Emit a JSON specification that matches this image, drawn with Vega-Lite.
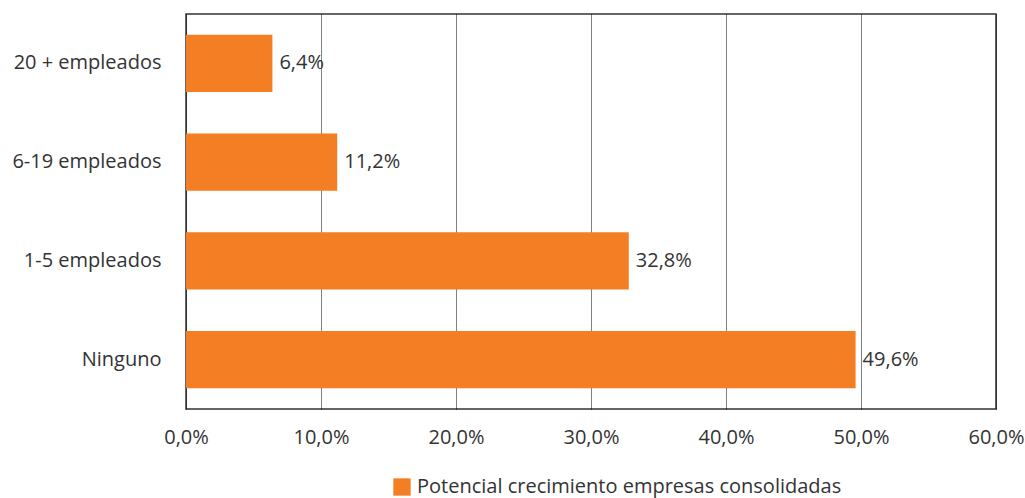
{
  "$schema": "https://vega.github.io/schema/vega-lite/v6.json",
  "width": 810,
  "height": 395,
  "autosize": {"type": "none"},
  "padding": {"left": 186, "top": 14, "right": 29, "bottom": 89},
  "background": "white",
  "data": {
    "values": [
      {"categoria": "20 + empleados", "valor": 0.064, "serie": "Potencial crecimiento empresas consolidadas"},
      {"categoria": "6-19 empleados", "valor": 0.112, "serie": "Potencial crecimiento empresas consolidadas"},
      {"categoria": "1-5 empleados", "valor": 0.328, "serie": "Potencial crecimiento empresas consolidadas"},
      {"categoria": "Ninguno", "valor": 0.496, "serie": "Potencial crecimiento empresas consolidadas"}
    ]
  },
  "encoding": {
    "y": {
      "field": "categoria",
      "type": "nominal",
      "sort": null,
      "title": null,
      "scale": {"paddingInner": 0.42, "paddingOuter": 0.21},
      "axis": {"ticks": false, "domain": false, "labelPadding": 25, "labelFontSize": 20, "labelColor": "#333333", "labelFont": "Open Sans"}
    },
    "x": {
      "field": "valor",
      "type": "quantitative",
      "title": null,
      "scale": {"domain": [0, 0.6], "nice": false},
      "axis": {
        "values": [0, 0.1, 0.2, 0.3, 0.4, 0.5, 0.6],
        "labelExpr": "replace(format(datum.value, '.1%'), '.', ',')",
        "labelFlush": false,
        "ticks": false,
        "domain": false,
        "labelPadding": 18,
        "labelFontSize": 20,
        "labelColor": "#333333",
        "labelFont": "Open Sans",
        "grid": true,
        "gridColor": "#000000",
        "gridDash": [1, 1],
        "gridWidth": 1,
        "gridOpacity": 1
      }
    }
  },
  "layer": [
    {
      "mark": {"type": "bar"},
      "encoding": {
        "color": {
          "field": "serie",
          "type": "nominal",
          "scale": {"range": ["#F47E23"]},
          "legend": {
            "title": null,
            "orient": "none",
            "legendX": 206,
            "legendY": 463,
            "direction": "horizontal",
            "symbolType": "square",
            "symbolSize": 300,
            "symbolStrokeWidth": 0,
            "labelFontSize": 20,
            "labelColor": "#333333",
            "labelFont": "Open Sans",
            "labelLimit": 600,
            "labelOffset": 5
          }
        }
      }
    },
    {
      "mark": {"type": "text", "align": "left", "baseline": "middle", "dx": 7, "fontSize": 20, "font": "Open Sans", "color": "#333333"},
      "encoding": {
        "text": {"field": "valor", "type": "quantitative", "format": ".1%"}
      }
    }
  ],
  "config": {
    "locale": {"number": {"decimal": ",", "thousands": ".", "grouping": [3], "currency": ["", " €"]}},
    "view": {"stroke": "#333333", "strokeWidth": 1.5}
  }
}
